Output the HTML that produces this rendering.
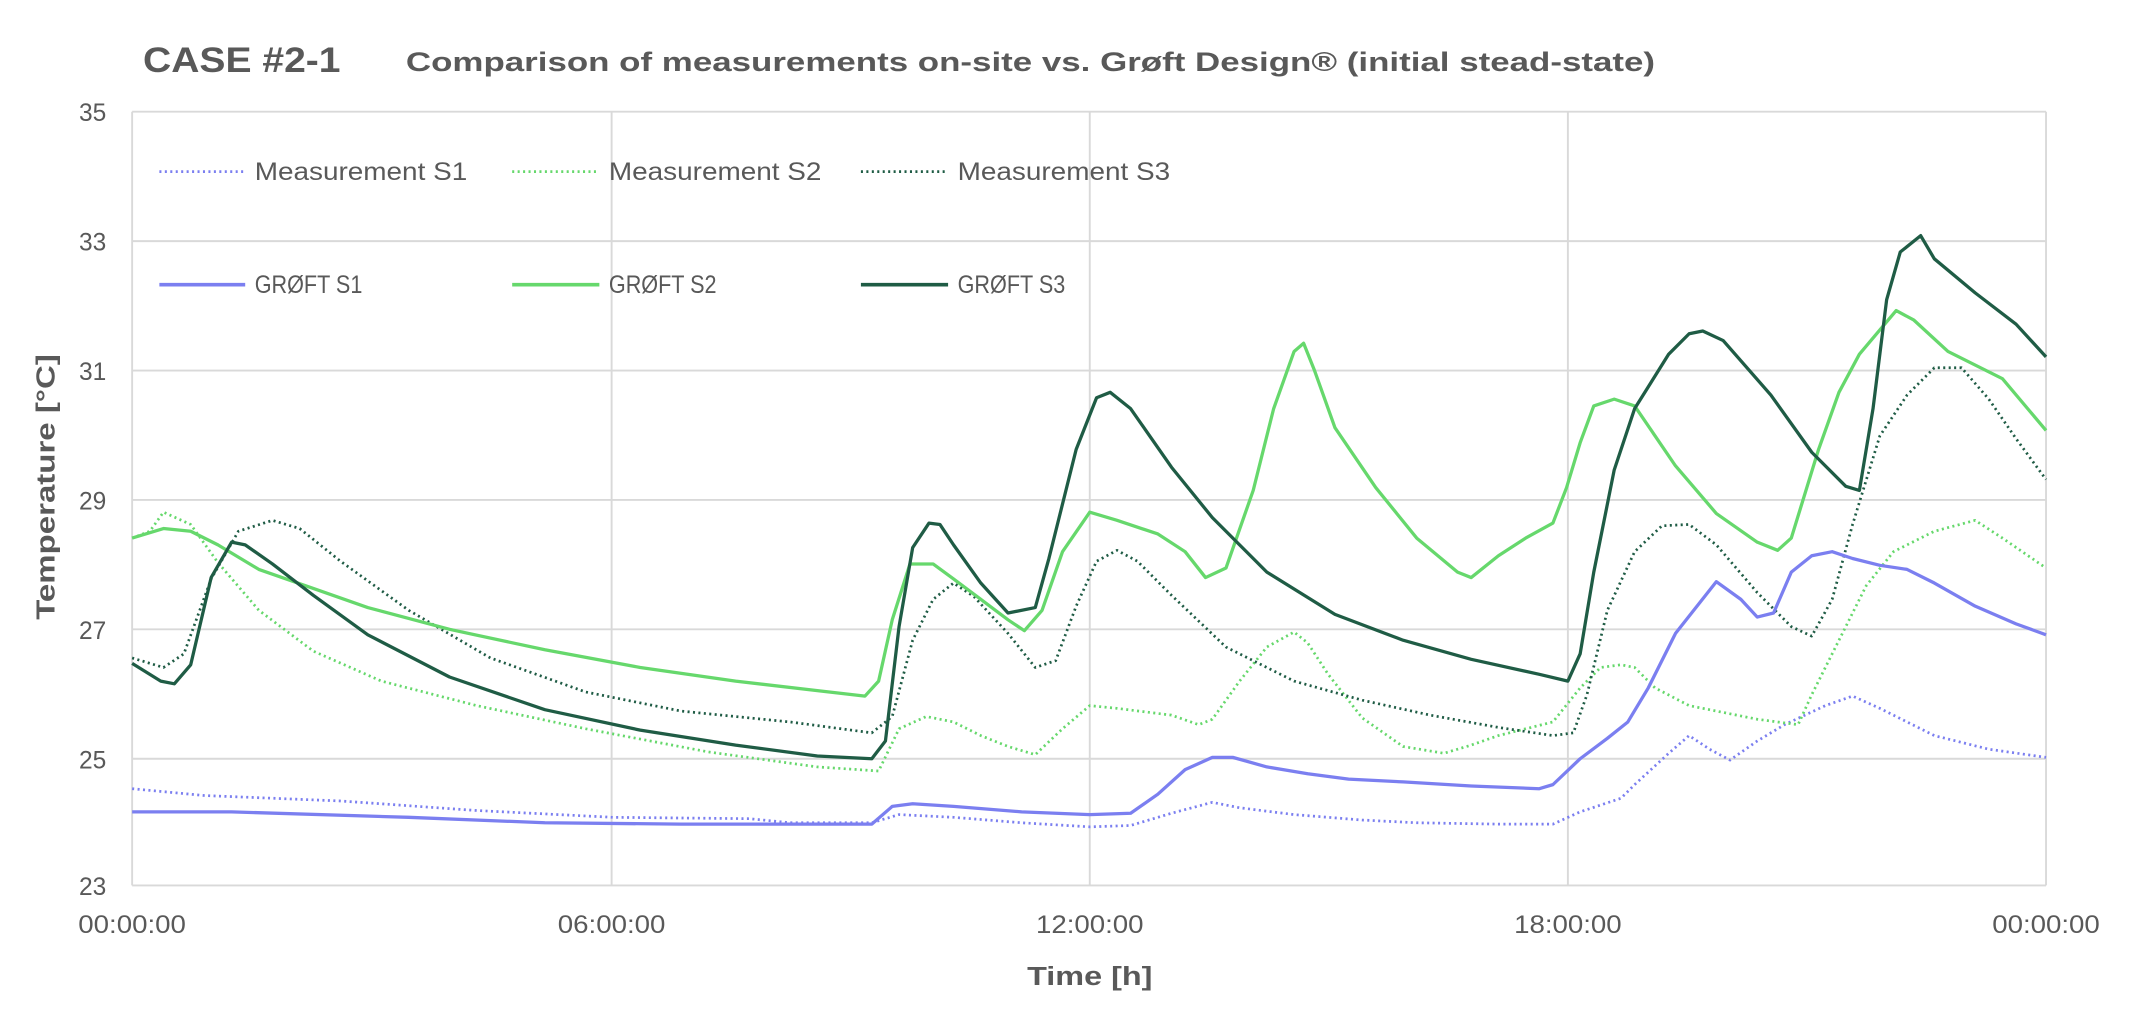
<!DOCTYPE html>
<html><head><meta charset="utf-8"><style>
html,body{margin:0;padding:0;background:#fff;width:2136px;height:1010px;overflow:hidden}
svg{display:block}
text{font-family:"Liberation Sans",sans-serif;fill:#595959}
</style></head><body>
<svg width="2136" height="1010" viewBox="0 0 2136 1010">
<g transform="scale(1.3622)">
<text x="105" y="53" font-size="26" font-weight="bold" textLength="145" lengthAdjust="spacingAndGlyphs">CASE #2-1</text>
<text x="298" y="52" font-size="20" font-weight="bold" textLength="917" lengthAdjust="spacingAndGlyphs">Comparison of measurements on-site vs. Grøft Design® (initial stead-state)</text>
<g stroke="#d9d9d9" stroke-width="1.4" fill="none">
<line x1="97" y1="82" x2="1502" y2="82"/>
<line x1="97" y1="177" x2="1502" y2="177"/>
<line x1="97" y1="272" x2="1502" y2="272"/>
<line x1="97" y1="367" x2="1502" y2="367"/>
<line x1="97" y1="462" x2="1502" y2="462"/>
<line x1="97" y1="557" x2="1502" y2="557"/>
<line x1="97" y1="650" x2="1502" y2="650"/>
<line x1="97" y1="82" x2="97" y2="650"/>
<line x1="449" y1="82" x2="449" y2="650"/>
<line x1="800" y1="82" x2="800" y2="650"/>
<line x1="1151" y1="82" x2="1151" y2="650"/>
<line x1="1502" y1="82" x2="1502" y2="650"/>
</g>
<g font-size="18" text-anchor="end">
<text x="78" y="89">35</text><text x="78" y="184">33</text><text x="78" y="279">31</text>
<text x="78" y="374">29</text><text x="78" y="469">27</text><text x="78" y="564">25</text><text x="78" y="657">23</text>
</g>
<g font-size="18" text-anchor="middle">
<text x="97" y="685" textLength="79" lengthAdjust="spacingAndGlyphs">00:00:00</text><text x="449" y="685" textLength="79" lengthAdjust="spacingAndGlyphs">06:00:00</text><text x="800" y="685" textLength="79" lengthAdjust="spacingAndGlyphs">12:00:00</text>
<text x="1151" y="685" textLength="79" lengthAdjust="spacingAndGlyphs">18:00:00</text><text x="1502" y="685" textLength="79" lengthAdjust="spacingAndGlyphs">00:00:00</text>
</g>
<text x="754" y="723" font-size="19" font-weight="bold" textLength="92" lengthAdjust="spacingAndGlyphs">Time [h]</text>
<text transform="translate(40,455) rotate(-90)" font-size="19" font-weight="bold" textLength="195" lengthAdjust="spacingAndGlyphs">Temperature [°C]</text>
<g font-size="18">
<line x1="117" y1="126" x2="180" y2="126" stroke="#7b7ff0" stroke-width="2" stroke-dasharray="1.5 2.5"/>
<text x="187" y="132" textLength="156" lengthAdjust="spacingAndGlyphs">Measurement S1</text>
<line x1="376" y1="126" x2="440" y2="126" stroke="#66d86c" stroke-width="2" stroke-dasharray="1.5 2.5"/>
<text x="447" y="132" textLength="156" lengthAdjust="spacingAndGlyphs">Measurement S2</text>
<line x1="632" y1="126" x2="696" y2="126" stroke="#1f5c45" stroke-width="2" stroke-dasharray="1.5 2.5"/>
<text x="703" y="132" textLength="156" lengthAdjust="spacingAndGlyphs">Measurement S3</text>
<line x1="117" y1="209" x2="180" y2="209" stroke="#7b7ff0" stroke-width="2.6"/>
<text x="187" y="215" textLength="79" lengthAdjust="spacingAndGlyphs">GRØFT S1</text>
<line x1="376" y1="209" x2="440" y2="209" stroke="#66d86c" stroke-width="2.6"/>
<text x="447" y="215" textLength="79" lengthAdjust="spacingAndGlyphs">GRØFT S2</text>
<line x1="632" y1="209" x2="696" y2="209" stroke="#1f5c45" stroke-width="2.6"/>
<text x="703" y="215" textLength="79" lengthAdjust="spacingAndGlyphs">GRØFT S3</text>
</g>
<g fill="none" stroke-linejoin="round">
<polyline stroke="#7b7ff0" stroke-width="2" stroke-dasharray="1.5 2.5" points="97,579 150,584 250,588 350,595 450,600 550,601 580,604 640,604 660,598 700,600 750,604 800,607 830,606 860,597 890,589 910,593 950,598 1000,602 1040,604 1100,605 1140,605 1160,596 1190,586 1200,576 1225,553 1240,540 1255,550 1270,558 1290,544 1310,532 1340,518 1360,511 1380,520 1420,540 1460,550 1502,556"/>
<polyline stroke="#66d86c" stroke-width="2" stroke-dasharray="1.5 2.5" points="97,395 110,390 120,376 140,385 160,413 190,448 230,478 280,500 350,518 430,535 520,552 600,563 645,566 660,535 680,526 700,530 720,540 740,548 760,554 780,535 800,518 820,520 860,525 880,532 890,528 910,500 930,475 950,464 960,472 975,495 1000,527 1030,548 1060,553 1080,547 1100,540 1140,530 1160,505 1175,490 1190,488 1200,490 1215,505 1240,518 1290,528 1320,532 1330,510 1350,470 1370,430 1390,405 1420,390 1450,382 1470,395 1502,417"/>
<polyline stroke="#1f5c45" stroke-width="2" stroke-dasharray="1.5 2.5" points="97,483 120,490 135,480 155,425 175,390 200,382 220,388 250,412 300,448 360,483 430,508 500,522 580,530 640,538 655,526 670,470 685,440 700,428 715,438 740,465 760,490 775,485 790,445 805,412 820,404 835,412 860,437 900,475 950,500 1000,514 1050,525 1100,534 1140,540 1155,538 1165,510 1180,448 1200,405 1220,386 1240,385 1260,400 1290,435 1315,460 1330,467 1345,440 1360,385 1380,320 1400,290 1420,270 1440,270 1460,293 1480,322 1502,352"/>
<polyline stroke="#7b7ff0" stroke-width="2.4" points="97,596 170,596 300,600 400,604 500,605 640,605 655,592 670,590 700,592 750,596 800,598 830,597 850,583 870,565 890,556 905,556 930,563 960,568 990,572 1030,574 1080,577 1130,579 1140,576 1160,557 1180,542 1195,530 1210,505 1230,465 1260,427 1278,440 1290,453 1302,450 1315,420 1330,408 1345,405 1360,410 1380,415 1400,418 1420,428 1450,445 1480,458 1502,466"/>
<polyline stroke="#66d86c" stroke-width="2.4" points="97,395 120,388 140,390 160,400 190,418 230,432 270,446 330,462 400,477 470,490 540,500 600,507 635,511 645,500 655,455 668,414 685,414 700,425 720,440 740,455 752,463 765,448 780,405 800,376 820,382 850,392 870,405 885,424 900,417 920,360 935,300 950,258 957,252 965,272 980,314 1010,358 1040,395 1070,420 1080,424 1100,408 1120,395 1140,384 1150,358 1160,325 1170,298 1185,293 1200,298 1230,342 1260,377 1290,398 1305,404 1315,395 1335,330 1350,288 1365,260 1392,228 1405,235 1430,258 1470,278 1502,316"/>
<polyline stroke="#1f5c45" stroke-width="2.4" points="97,487 118,500 128,502 140,488 155,424 170,398 180,400 200,414 230,437 270,466 330,497 400,521 470,536 540,547 600,555 640,557 650,544 660,460 670,402 682,384 690,385 700,400 720,428 740,450 760,446 770,410 790,330 805,292 815,288 830,300 860,343 890,380 930,420 980,451 1030,470 1080,484 1130,495 1151,500 1160,480 1170,420 1185,345 1200,300 1225,260 1240,245 1250,243 1265,250 1300,290 1330,332 1355,357 1365,360 1375,300 1385,220 1395,185 1410,173 1420,190 1450,215 1480,238 1502,262"/>
</g>
</g>
</svg>
</body></html>
